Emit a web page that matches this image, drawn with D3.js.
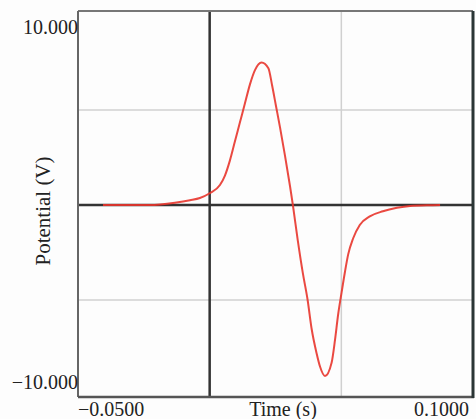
<!DOCTYPE html>
<html><head><meta charset="utf-8">
<script src="https://cdn.jsdelivr.net/npm/d3@7"></script>
<style>html,body{margin:0;padding:0;background:#fdfdfd;overflow:hidden}</style>
</head><body>
<svg id="c" width="476" height="419"></svg>
<script>
const timeS = [-0.0405,-0.0227,-0.0132,-0.0075,-0.0037,0,0.0039,0.0058,0.0077,0.0096,0.0115,0.0134,0.0153,0.0172,0.0197,0.0223,0.0237,0.0252,0.0267,0.0286,0.0305,0.0316,0.0335,0.0354,0.0372,0.0387,0.0406,0.0419,0.0438,0.0463,0.0476,0.0488,0.0501,0.0514,0.0526,0.0545,0.0570,0.0608,0.0658,0.0711,0.0761,0.0837,0.0875];
const potentialV = [0,0,0.12,0.25,0.37,0.62,1.05,1.55,2.35,3.35,4.35,5.35,6.35,7.1,7.5,7.2,6.3,5.2,4.1,2.6,1.0,0,-1.9,-3.6,-5.0,-6.5,-7.8,-8.5,-9.0,-8.3,-7.1,-5.75,-4.6,-3.5,-2.6,-1.75,-1.05,-0.6,-0.33,-0.15,-0.05,-0.01,0];
const xDomain = [-0.05, 0.1];
const yDomain = [-10, 10];
const xTickValues = [-0.05, 0.1];
const xTickLabels = ["\u22120.0500", "0.1000"];
const yTickValues = [10, -10];
const yTickLabels = ["10.000", "\u221210.000"];
const xGrid = [0.05];
const yGrid = [5, -5];
const xTitle = "Time (s)";
const yTitle = "Potential (V)";

const svg = d3.select("#c");
const L = 78, R = 473, T = 11, B = 397;
const x = d3.scaleLinear().domain(xDomain).range([L, R]);
const y = d3.scaleLinear().domain(yDomain).range([395, 15]);
const font = "'Liberation Serif','Times New Roman',serif";

svg.append("rect").attr("width",476).attr("height",419).attr("fill","#fdfdfd");

// grid
svg.selectAll(".gx").data(xGrid).join("line")
  .attr("x1",d=>x(d)).attr("x2",d=>x(d)).attr("y1",T).attr("y2",B)
  .attr("stroke","#d0d0d0").attr("stroke-width",1.5);
svg.selectAll(".gy").data(yGrid).join("line")
  .attr("x1",L).attr("x2",R).attr("y1",d=>y(d)).attr("y2",d=>y(d))
  .attr("stroke","#d0d0d0").attr("stroke-width",1.5);

// zero axes
svg.append("line").attr("x1",x(0)).attr("x2",x(0)).attr("y1",T).attr("y2",B)
  .attr("stroke","#333").attr("stroke-width",2.5);
svg.append("line").attr("x1",L).attr("x2",R).attr("y1",y(0)).attr("y2",y(0))
  .attr("stroke","#333").attr("stroke-width",2.5);

// curve
const line = d3.line().x((d,i)=>x(timeS[i])).y(d=>y(d)).curve(d3.curveMonotoneX);
svg.append("path").datum(potentialV).attr("d",line)
  .attr("fill","none").attr("stroke","#e8352c").attr("stroke-width",2).attr("stroke-opacity",0.9)
  .attr("stroke-linejoin","round");

// frame
svg.append("line").attr("x1",L).attr("x2",R).attr("y1",T).attr("y2",T).attr("stroke","#777").attr("stroke-width",2);
svg.append("line").attr("x1",L).attr("x2",L).attr("y1",T).attr("y2",B).attr("stroke","#666").attr("stroke-width",2);
svg.append("line").attr("x1",L).attr("x2",R+1).attr("y1",B).attr("y2",B).attr("stroke","#555").attr("stroke-width",2.5);
svg.append("line").attr("x1",R).attr("x2",R).attr("y1",T).attr("y2",B+1).attr("stroke","#2a3535").attr("stroke-width",3);

// tick labels
svg.selectAll(".yt").data(yTickValues).join("text")
  .attr("x",L).attr("y",d=>y(d)+(d>0?19:-6))
  .attr("text-anchor","end").attr("font-family",font).attr("font-size",20).attr("fill","#222")
  .text((d,i)=>yTickLabels[i]);
svg.selectAll(".xt").data(xTickValues).join("text")
  .attr("x",(d,i)=>i===0?x(d):x(d)-59).attr("y",416)
  .attr("text-anchor","start").attr("font-family",font).attr("font-size",20).attr("fill","#222")
  .text((d,i)=>xTickLabels[i]);

// titles
svg.append("text").attr("x",283).attr("y",416).attr("text-anchor","middle")
  .attr("font-family",font).attr("font-size",20).attr("fill","#222").text(xTitle);
svg.append("text").attr("transform","translate(50,211) rotate(-90)").attr("text-anchor","middle")
  .attr("font-family",font).attr("font-size",21).attr("fill","#222").text(yTitle);
</script>
</body></html>
